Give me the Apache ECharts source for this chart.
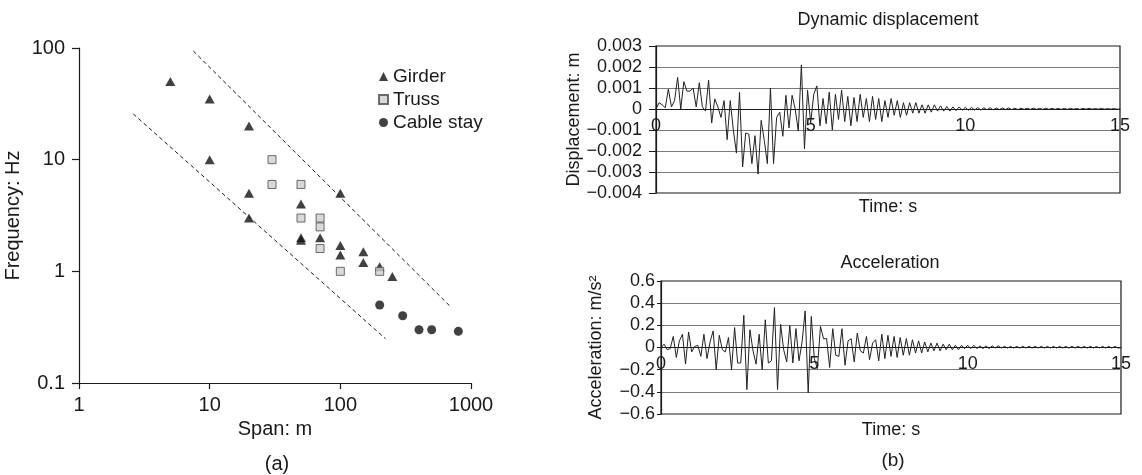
<!DOCTYPE html>
<html>
<head>
<meta charset="utf-8">
<script src="https://cdn.jsdelivr.net/npm/echarts@6/dist/echarts.min.js"></script>
<style>
  html, body { margin: 0; padding: 0; background: #fff; }
  #chart { width: 1142px; height: 475px; }
</style>
</head>
<body>
<div id="chart"></div>
<script>
// ---------- (a) natural frequency vs. span ----------
const girder = [
  [5, 50], [10, 35], [10, 10], [20, 20], [20, 5], [20, 3],
  [50, 4], [50, 2], [50, 1.9], [70, 2], [100, 5], [100, 1.7], [100, 1.4],
  [150, 1.5], [150, 1.2], [200, 1.1], [250, 0.9]
];
const truss = [
  [30, 10], [30, 6], [50, 6], [50, 3], [70, 3], [70, 2.5], [70, 1.6],
  [100, 1], [200, 1]
];
const cableStay = [[200, 0.5], [300, 0.4], [400, 0.3], [500, 0.3], [800, 0.29]];
const upperBound = [[7.5, 94], [700, 0.48]];
const lowerBound = [[2.6, 25.7], [221, 0.25]];
const legendNames = ['Girder', 'Truss', 'Cable stay'];

// ---------- (b) response time histories, sampled every 0.1 s ----------
const SAMPLE_STEP = 0.1;
const displacement = [
  0, 0.0003, 0.0002, 0.00006, 0.00095, 0.0001, 0.0004, 0.0015, 0.0, 0.0013,
  0.00085, 0.00085, 0.001, 0.0001, 0.00125, 0.0001, -0.0001, 0.00137, -0.00067, 0.00048,
  0.0001, -0.0004, 0.0004, -0.00146, 0.0004, -0.001, -0.0021, 0.0008, -0.00276, -0.00114,
  -0.0012, -0.0026, -0.00127, -0.0031, -0.00054, -0.0015, -0.0026, 0.001, -0.0026, -0.0004,
  -0.00015, -0.0013, 0.00065, -0.0009, 0.00065, 0.0, -0.00105, 0.0021, -0.0019, 0.0009,
  -0.00067, 0.0007, 0.0011, -0.0008, 0.0005, -0.0007, 0.0008, -0.001, 0.0007, -0.0005,
  0.0009, -0.0006, 0.0006, -0.0008, 0.00055, -0.0006, 0.0007, -0.0004, 0.0005, -0.0006,
  0.0006, -0.0005, 0.0005, -0.0006, 0.0004, -0.0004, 0.0005, -0.0003, 0.0004, -0.0004,
  0.0003, -0.0003, 0.0003, -0.0002, 0.0003, -0.0002, 0.0002, -0.0002, 0.0002, -0.00015,
  0.0002, -0.0001, 0.00015, -0.0001, 0.00012, -0.0001, 0.0001, -0.00008, 0.0001, -0.00006,
  0.00008, -0.00006, 0.00008, -0.00005, 0.00007, -0.00005, 0.00006, -0.00004, 0.00006, -0.00004,
  0.00005, -0.00003, 0.00005, -0.00003, 0.00005, -0.00003, 0.00004, -0.00003, 0.00004, -0.00002,
  0.00004, -0.00002, 0.00004, -0.00002, 0.00003, -0.00002, 0.00004, -0.00002, 0.00003, -0.00002,
  0.00003, -0.00002, 0.00003, -0.00002, 0.00003, -0.00001, 0.00003, -0.00002, 0.00003, -0.00001,
  0.00003, -0.00001, 0.00002, -0.00001, 0.00003, -0.00001, 0.00002, -0.00001, 0.00002, -0.00001,
  0
];
const acceleration = [
  0, 0.03, -0.02, -0.01, 0.1, -0.09, 0.06, 0.12, -0.15, 0.14,
  -0.04, 0.01, 0.02, -0.08, 0.12, -0.1, 0.05, 0.15, -0.2, 0.11,
  -0.02, -0.04, 0.09, -0.2, 0.18, -0.14, -0.14, 0.29, -0.38, 0.16,
  -0.03, -0.15, 0.12, -0.2, 0.25, -0.14, -0.12, 0.36, -0.38, 0.21,
  -0.02, -0.13, 0.2, -0.14, 0.17, -0.12, 0.05, 0.33, -0.41, 0.28,
  -0.1, -0.19, 0.19, 0.08, 0.08, -0.18, 0.17, -0.07, -0.08, 0.17,
  -0.16, 0.06, 0.08, -0.13, 0.13, -0.03, -0.05, 0.1, -0.11, 0.04,
  0.07, -0.12, 0.12, -0.1, 0.11, -0.08, 0.1, -0.09, 0.09, -0.07,
  0.08, -0.07, 0.07, -0.05, 0.06, -0.05, 0.05, -0.04, 0.04, -0.03,
  0.04, -0.03, 0.03, -0.02, 0.03, -0.02, 0.02, -0.02, 0.02, -0.01,
  0.02, -0.01, 0.02, -0.01, 0.015, -0.01, 0.015, -0.01, 0.015, -0.005,
  0.015, -0.005, 0.01, -0.005, 0.01, -0.005, 0.01, -0.005, 0.01, -0.005,
  0.01, -0.005, 0.01, -0.005, 0.01, -0.005, 0.01, -0.005, 0.01, -0.005,
  0.01, -0.005, 0.01, -0.005, 0.01, -0.005, 0.01, -0.005, 0.01, -0.005,
  0.01, -0.005, 0.01, -0.005, 0.01, -0.005, 0.01, -0.005, 0.01, -0.005,
  0
];

// axis ranges
const SPAN_RANGE = [1, 1000];
const FREQ_RANGE = [0.1, 100];
const TIME_RANGE = [0, 15];
const TIME_STEP_LABEL = 5;
const DISP_RANGE = [-0.004, 0.003];
const DISP_STEP = 0.001;
const ACC_RANGE = [-0.6, 0.6];
const ACC_STEP = 0.2;

// plot rectangles
const GRID_A = { left: 79, top: 48, width: 392, height: 335 };
const GRID_DISP = { left: 656, top: 46, width: 464, height: 147 };
const GRID_ACC = { left: 661, top: 281, width: 460, height: 133 };

const FONT = '"Liberation Sans", Arial, Helvetica, sans-serif';
const INK = '#1a1a1a';

const toSeries = values => values.map((v, i) => [+(i * SAMPLE_STEP).toFixed(2), v]);
const signedLabel = decimals => v => {
  if (Math.abs(v) < 1e-12) return '0';
  return (v < 0 ? '\u2212' : '') + Math.abs(v).toFixed(decimals);
};
const logLabel = v => String(+(+v).toPrecision(6));

const text = (size) => ({ fontFamily: FONT, fontSize: size, color: INK });

const logAxis = (extra) => Object.assign({
  type: 'log', logBase: 10,
  axisLine: { show: true, onZero: false, lineStyle: { color: INK, width: 1.2 } },
  axisTick: { show: true, inside: false, length: 6, lineStyle: { color: INK, width: 1.2 } },
  minorTick: { show: false }, splitLine: { show: false }, minorSplitLine: { show: false },
  axisLabel: Object.assign(text(20), { formatter: logLabel }),
  nameLocation: 'middle', nameTextStyle: text(20)
}, extra);

// time axis lifted from the bottom edge up to the zero level of the response axis
const timeAxis = (gridIndex, grid, range, nameGap) => ({
  type: 'value', gridIndex, position: 'bottom',
  offset: -grid.height * (0 - range[0]) / (range[1] - range[0]),
  min: TIME_RANGE[0], max: TIME_RANGE[1], interval: TIME_STEP_LABEL,
  axisLine: { show: true, onZero: false, lineStyle: { color: INK, width: 1 } },
  axisTick: { show: false },
  splitLine: { show: false },
  axisLabel: Object.assign(text(18), { margin: 8 }),
  name: 'Time: s', nameLocation: 'middle', nameGap, nameTextStyle: text(18)
});

const responseAxis = (gridIndex, range, step, decimals, name, nameGap, margin, tickLen) => ({
  type: 'value', gridIndex, min: range[0], max: range[1], interval: step,
  axisLine: { show: true, onZero: false, lineStyle: { color: INK, width: 1.2 } },
  axisTick: { show: true, inside: false, length: tickLen, lineStyle: { color: INK } },
  splitLine: { show: true, showMinLine: false, showMaxLine: false, lineStyle: { color: '#7a7a7a', width: 1 } },
  axisLabel: Object.assign(text(18), { margin, formatter: signedLabel(decimals) }),
  name, nameLocation: 'middle', nameGap, nameTextStyle: text(18)
});

const frame = { show: true, borderColor: INK, borderWidth: 1.2, backgroundColor: 'transparent' };
const fixedGrid = { containLabel: false, outerBoundsMode: 'none' };

const option = {
  animation: false,
  backgroundColor: '#fff',
  textStyle: { fontFamily: FONT, color: INK },
  grid: [
    Object.assign({}, GRID_A, fixedGrid),
    Object.assign({}, GRID_DISP, fixedGrid, frame),
    Object.assign({}, GRID_ACC, fixedGrid, frame)
  ],
  xAxis: [
    logAxis({ gridIndex: 0, min: SPAN_RANGE[0], max: SPAN_RANGE[1], name: 'Span: m', nameGap: 35,
      axisLabel: Object.assign(text(20), { formatter: logLabel, margin: 12 }) }),
    timeAxis(1, GRID_DISP, DISP_RANGE, 89),
    timeAxis(2, GRID_ACC, ACC_RANGE, 74)
  ],
  yAxis: [
    logAxis({ gridIndex: 0, min: FREQ_RANGE[0], max: FREQ_RANGE[1], name: 'Frequency: Hz', nameGap: 56,
      axisTick: { show: true, inside: false, length: 7, lineStyle: { color: INK, width: 1.2 } },
      axisLabel: Object.assign(text(20), { formatter: logLabel, margin: 14 }) }),
    responseAxis(1, DISP_RANGE, DISP_STEP, 3, 'Displacement: m', 50, 14, 7),
    responseAxis(2, ACC_RANGE, ACC_STEP, 1, 'Acceleration: m/s\u00b2', 56, 6, 4)
  ],
  legend: {
    data: legendNames, orient: 'vertical', left: 378, top: 67, padding: 0,
    itemWidth: 9, itemHeight: 9, itemGap: 4, selectedMode: false,
    textStyle: Object.assign(text(19), { lineHeight: 19 })
  },
  graphic: [
    { type: 'text', x: 888, y: 20, style: { text: 'Dynamic displacement', font: '18px ' + FONT, fill: INK, align: 'center', verticalAlign: 'middle', textAlign: 'center', textVerticalAlign: 'middle' } },
    { type: 'text', x: 890, y: 263, style: { text: 'Acceleration', font: '18px ' + FONT, fill: INK, align: 'center', verticalAlign: 'middle', textAlign: 'center', textVerticalAlign: 'middle' } },
    { type: 'text', x: 277, y: 464, style: { text: '(a)', font: '20px ' + FONT, fill: INK, align: 'center', verticalAlign: 'middle', textAlign: 'center', textVerticalAlign: 'middle' } },
    { type: 'text', x: 893, y: 461, style: { text: '(b)', font: '19px ' + FONT, fill: INK, align: 'center', verticalAlign: 'middle', textAlign: 'center', textVerticalAlign: 'middle' } }
  ],
  series: [
    { type: 'line', xAxisIndex: 0, yAxisIndex: 0, data: upperBound, symbol: 'none', silent: true,
      lineStyle: { type: [4, 3], color: INK, width: 1 } },
    { type: 'line', xAxisIndex: 0, yAxisIndex: 0, data: lowerBound, symbol: 'none', silent: true,
      lineStyle: { type: [4, 3], color: INK, width: 1 } },
    { name: 'Girder', type: 'scatter', xAxisIndex: 0, yAxisIndex: 0, data: girder,
      symbol: 'triangle', symbolSize: [10, 9], itemStyle: { color: '#111' } },
    { name: 'Truss', type: 'scatter', xAxisIndex: 0, yAxisIndex: 0, data: truss,
      symbol: 'rect', symbolSize: 8, itemStyle: { color: '#cfcfcf', borderColor: '#4a4a4a', borderWidth: 1 } },
    { name: 'Cable stay', type: 'scatter', xAxisIndex: 0, yAxisIndex: 0, data: cableStay,
      symbol: 'circle', symbolSize: 9, itemStyle: { color: '#111' } },
    { type: 'line', xAxisIndex: 1, yAxisIndex: 1, data: toSeries(displacement), symbol: 'none',
      lineStyle: { color: '#222', width: 1 } },
    { type: 'line', xAxisIndex: 2, yAxisIndex: 2, data: toSeries(acceleration), symbol: 'none',
      lineStyle: { color: '#222', width: 1 } }
  ]
};

const chart = echarts.init(document.getElementById('chart'), null, { renderer: 'canvas' });
chart.setOption(option);
</script>
</body>
</html>
